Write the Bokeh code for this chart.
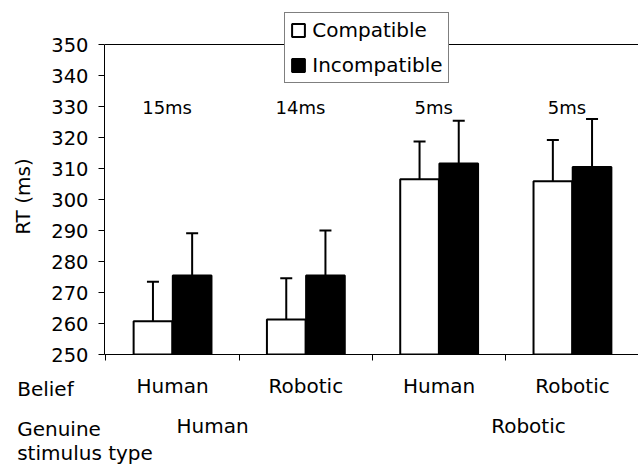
from bokeh.plotting import figure
from bokeh.layouts import column
from bokeh.models import (Range1d, FixedTicker, Span, Legend, LegendItem,
                          Whisker, TeeHead, ColumnDataSource, CustomLabelingPolicy)
from bokeh.embed import file_html
from bokeh.resources import INLINE
from bokeh.core.properties import value

# ---------------- data ----------------
belief_labels = ["Human", "Robotic", "Human", "Robotic"]
genuine_labels = ["Human", "Robotic"]
row_headings = ["Belief", "Genuine", "stimulus type"]
compat_rt = [260.7, 261.3, 306.5, 305.9]
incompat_rt = [275.5, 275.5, 311.6, 310.5]
compat_sd = [12.8, 13.3, 12.2, 13.3]
incompat_sd = [13.6, 14.5, 13.8, 15.5]
diff_labels = ["15ms", "14ms", "5ms", "5ms"]
y_ticks = [250, 260, 270, 280, 290, 300, 310, 320, 330, 340, 350]
series_names = ["Compatible", "Incompatible"]
y_title = "RT (ms)"

# ---------------- layout constants ----------------
FONT = "DejaVu Sans"
W, H = 638, 466
TOP_H = 374            # height of the chart part
FRAME_LEFT = 104       # px
CAT0_PX = 105.4        # px position of category boundary 0
CAT_PX = 133.3         # px per category
PX_PER_UNIT = 3.1      # px per ms
AXIS_Y_PX = 354        # px position of the 250 line
DODGE = 0.147
BAR_W = 0.29
DIFF_Y = 329.7
DIFF_DX = -0.041
GENUINE_X = [0.80, 3.17]
HEAD_X = (16.7 - CAT0_PX) / CAT_PX
NBSP = "\u00a0"
# vertical text centres (px from the top of the lower panel)
ROW1_Y, HEAD1_Y = 11, 14.7
ROW2_Y, HEAD2_Y = 51, 54.5
HEAD3_Y = 78

n = len(belief_labels)
centers = [i + 0.5 for i in range(n)]

x0 = (FRAME_LEFT - CAT0_PX) / CAT_PX
x1 = (W - CAT0_PX) / CAT_PX
y_lo = y_ticks[0]
y_hi = y_lo + AXIS_Y_PX / PX_PER_UNIT

p = figure(width=W, height=TOP_H, output_backend="svg", toolbar_location=None,
           title=None, x_range=Range1d(x0, x1), y_range=Range1d(y_lo, y_hi),
           min_border_left=FRAME_LEFT, min_border_right=0, min_border_top=0,
           min_border_bottom=TOP_H - AXIS_Y_PX)
p.frame_align = False
p.outline_line_color = None
p.grid.visible = False
p.background_fill_color = "white"
p.border_fill_color = "white"

src_c = ColumnDataSource(dict(x=[c - DODGE for c in centers], top=compat_rt,
                              up=[v + s for v, s in zip(compat_rt, compat_sd)]))
src_i = ColumnDataSource(dict(x=[c + DODGE for c in centers], top=incompat_rt,
                              up=[v + s for v, s in zip(incompat_rt, incompat_sd)]))

rc = p.vbar(x="x", top="top", bottom=y_lo, width=BAR_W, source=src_c,
            fill_color="white", line_color="black", line_width=2)
ri = p.vbar(x="x", top="top", bottom=y_lo, width=BAR_W, source=src_i,
            fill_color="black", line_color="black", line_width=2)

for src in (src_c, src_i):
    p.add_layout(Whisker(source=src, base="x", lower="top", upper="up",
                         line_color="black", line_width=2, lower_head=None,
                         upper_head=TeeHead(size=12, line_width=2, line_color="black"),
                         level="annotation"))

p.text(x=[c + DIFF_DX for c in centers], y=[DIFF_Y] * n, text=diff_labels,
       text_align="center", text_baseline="middle", text_color="black",
       text_font=value(FONT), text_font_size="18px")

p.add_layout(Span(location=y_ticks[-1], dimension="width", line_color="black",
                  line_width=1))

# y axis
ya = p.yaxis[0]
ya.bounds = (y_ticks[0], y_ticks[-1])
ya.ticker = FixedTicker(ticks=y_ticks)
ya.major_tick_out = 6
ya.major_tick_in = 0
ya.minor_tick_out = 0
ya.minor_tick_in = 0
ya.major_label_standoff = 10
ya.major_label_text_font = FONT
ya.major_label_text_font_size = "19.5px"
ya.major_label_text_color = "black"
ya.axis_line_color = "black"
ya.axis_line_width = 1
ya.major_tick_line_color = "black"
# trailing no-break spaces centre the visible title on the 250-350 span
ya.axis_label = y_title + NBSP * 6
ya.axis_label_text_font = FONT
ya.axis_label_text_font_size = "20px"
ya.axis_label_text_font_style = "normal"
ya.axis_label_text_color = "black"
ya.axis_label_standoff = 13

# x axis (tick marks at category boundaries, no labels)
xa = p.xaxis[0]
xa.ticker = FixedTicker(ticks=list(range(n)))
xa.major_tick_out = 6
xa.major_tick_in = 0
xa.minor_tick_out = 0
xa.minor_tick_in = 0
xa.major_label_standoff = 0
xa.major_label_text_font_size = "1px"
xa.major_label_overrides = {i: "" for i in range(n)}
xa.major_label_policy = CustomLabelingPolicy(code="return new Set()")
xa.axis_line_color = "black"
xa.axis_line_width = 1
xa.major_tick_line_color = "black"

# legend
legend = Legend(items=[LegendItem(label=series_names[0], renderers=[rc]),
                       LegendItem(label=series_names[1], renderers=[ri])],
                location=(284.3 - FRAME_LEFT, AXIS_Y_PX - 83.3), margin=0,
                padding=5, spacing=11, glyph_width=16, glyph_height=16,
                label_standoff=6, border_line_color="black", border_line_width=1,
                background_fill_color="white", background_fill_alpha=1,
                label_text_font=FONT, label_text_font_size="20px",
                label_text_color="black")
p.add_layout(legend)

# ---------------- lower text panel ----------------
BOT_H = H - TOP_H
q = figure(width=W, height=BOT_H, output_backend="svg", toolbar_location=None,
           title=None, x_axis_location=None, y_axis_location=None,
           x_range=Range1d((0 - CAT0_PX) / CAT_PX, (W - CAT0_PX) / CAT_PX),
           y_range=Range1d(BOT_H, 0),
           min_border_left=0, min_border_right=0, min_border_top=0,
           min_border_bottom=0)
q.frame_align = False
q.outline_line_color = None
q.grid.visible = False
q.background_fill_color = "white"
q.border_fill_color = "white"

txt = dict(text_color="black", text_font=value(FONT), text_font_size="20px",
           text_baseline="middle")
q.text(x=centers, y=[ROW1_Y] * n, text=belief_labels, text_align="center", **txt)
q.text(x=GENUINE_X, y=[ROW2_Y] * 2, text=genuine_labels, text_align="center", **txt)
q.text(x=[HEAD_X] * 3, y=[HEAD1_Y, HEAD2_Y, HEAD3_Y],
       text=row_headings, text_align="left", **txt)

layout = column(p, q, spacing=0)
open("out.html", "w").write(file_html(layout, INLINE))
